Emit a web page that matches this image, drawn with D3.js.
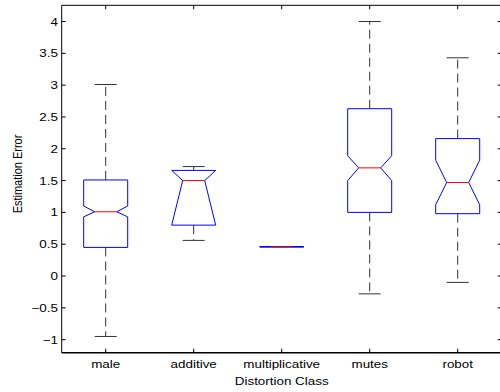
<!DOCTYPE html>
<html lang="en">
<head>
<meta charset="utf-8">
<title>Distortion boxplot</title>
<script src="https://cdn.jsdelivr.net/npm/d3@7"></script>
<style>
body { margin: 0; background: #fff; overflow: hidden; }
text { font-family: "Liberation Sans", Arial, sans-serif; font-size: 11px; fill: #000; }
</style>
</head>
<body>
<script>
var categories = ["male", "additive", "multiplicative", "mutes", "robot"];
var whiskerLow  = [-0.95, 0.56, 0.46, -0.28, -0.10];
var quart1      = [0.45, 0.80, 0.46, 1.00, 0.98];
var medians     = [1.01, 1.50, 0.46, 1.70, 1.47];
var quart3      = [1.51, 1.66, 0.46, 2.63, 2.16];
var whiskerHigh = [3.01, 1.72, 0.46, 4.00, 3.43];
var notchLow    = [0.93, 0.70, 0.46, 1.50, 1.12];
var notchHigh   = [1.10, 2.30, 0.46, 1.89, 1.82];
var yTicks = [-1, -0.5, 0, 0.5, 1, 1.5, 2, 2.5, 3, 3.5, 4];
var yTickLabels = ["\u22121", "\u22120.5", "0", "0.5", "1", "1.5", "2", "2.5", "3", "3.5", "4"];

var w = 500, h = 392;
var sx = 1.22; // text in the picture is stretched horizontally

var svg = d3.select("body").append("svg")
    .attr("width", w)
    .attr("height", h)
    .style("display", "block");

var x = d3.scaleLinear().domain([0.5, 5.5]).range([61.7, 501.7]);
var y = d3.scaleLinear().domain([-1.205, 4.255]).range([352.7, 5.3]);

var boxes = categories.map(function(c, i) {
    return { name: c, pos: i + 1, lo: whiskerLow[i], q1: quart1[i], med: medians[i],
             q3: quart3[i], hi: whiskerHigh[i],
             nlo: Math.max(notchLow[i], quart1[i]), nhi: Math.min(notchHigh[i], quart3[i]) };
});

var halfBox = 0.25, halfCap = 0.125, inset = 0.125;

// whiskers
var g = svg.append("g");
boxes.forEach(function(d) {
    g.append("line")
        .attr("x1", x(d.pos)).attr("x2", x(d.pos))
        .attr("y1", y(d.q3)).attr("y2", y(d.hi))
        .attr("stroke", "#333").attr("stroke-dasharray", "9,5");
    g.append("line")
        .attr("x1", x(d.pos)).attr("x2", x(d.pos))
        .attr("y1", y(d.q1)).attr("y2", y(d.lo))
        .attr("stroke", "#333").attr("stroke-dasharray", "9,5");
    [d.lo, d.hi].forEach(function(v) {
        g.append("line")
            .attr("x1", x(d.pos - halfCap)).attr("x2", x(d.pos + halfCap))
            .attr("y1", y(v)).attr("y2", y(v))
            .attr("stroke", "#333");
    });
});

// notched boxes
g.selectAll("path.box")
    .data(boxes)
    .enter()
    .append("path")
    .attr("class", "box")
    .attr("d", function(d) {
        var l = d.pos - halfBox, r = d.pos + halfBox;
        var pts = [[l, d.q1], [l, d.nlo], [l + inset, d.med], [l, d.nhi], [l, d.q3],
                   [r, d.q3], [r, d.nhi], [r - inset, d.med], [r, d.nlo], [r, d.q1]];
        return "M" + pts.map(function(p) { return x(p[0]) + "," + y(p[1]); }).join("L") + "Z";
    })
    .attr("fill", "none")
    .attr("stroke", "#0000ff");

g.selectAll("line.med")
    .data(boxes)
    .enter()
    .append("line")
    .attr("class", "med")
    .attr("x1", function(d) { return x(d.pos - halfBox + inset); })
    .attr("x2", function(d) { return x(d.pos + halfBox - inset); })
    .attr("y1", function(d) { return y(d.med); })
    .attr("y2", function(d) { return y(d.med); })
    .attr("stroke", "#ff0000");

// frame (right edge falls outside the picture)
var x0 = x.range()[0], x1 = x.range()[1], y0 = y.range()[0], y1 = y.range()[1];
svg.append("line").attr("x1", x0).attr("x2", x1).attr("y1", y1).attr("y2", y1).attr("stroke", "#000");
svg.append("line").attr("x1", x0).attr("x2", x0).attr("y1", y1).attr("y2", y0).attr("stroke", "#000");
svg.append("line").attr("x1", x0).attr("x2", x1).attr("y1", y0).attr("y2", y0)
    .attr("stroke", "#000").attr("stroke-width", 1.6);

// y ticks
yTicks.forEach(function(t, i) {
    svg.append("line").attr("x1", x0).attr("x2", x0 + 4).attr("y1", y(t)).attr("y2", y(t)).attr("stroke", "#000");
    svg.append("line").attr("x1", x1).attr("x2", x1 - 4).attr("y1", y(t)).attr("y2", y(t)).attr("stroke", "#000");
    svg.append("text")
        .attr("transform", "translate(58," + (y(t) + 4) + ") scale(" + sx + ",1)")
        .attr("text-anchor", "end")
        .text(yTickLabels[i]);
});

// x ticks
boxes.forEach(function(d) {
    svg.append("line").attr("x1", x(d.pos)).attr("x2", x(d.pos)).attr("y1", y0).attr("y2", y0 - 4).attr("stroke", "#000");
    svg.append("line").attr("x1", x(d.pos)).attr("x2", x(d.pos)).attr("y1", y1).attr("y2", y1 + 4).attr("stroke", "#000");
    svg.append("text")
        .attr("transform", "translate(" + x(d.pos) + ",368) scale(" + sx + ",1)")
        .attr("text-anchor", "middle")
        .text(d.name);
});

svg.append("text")
    .attr("transform", "translate(" + ((x0 + x1) / 2) + ",385) scale(" + sx + ",1)")
    .attr("text-anchor", "middle")
    .text("Distortion Class");

svg.append("text")
    .attr("transform", "translate(22," + 174 + ") scale(" + sx + ",1) rotate(-90)")
    .attr("text-anchor", "middle")
    .text("Estimation Error");
</script>
</body>
</html>
